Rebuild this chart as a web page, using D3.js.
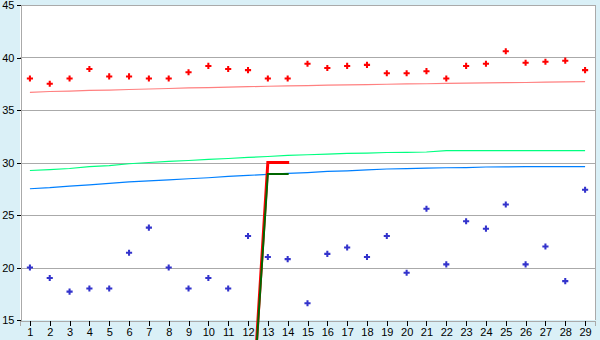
<!DOCTYPE html>
<html><head><meta charset="utf-8">
<script src="https://cdn.jsdelivr.net/npm/d3@7"></script>
<style>
html,body{margin:0;padding:0;background:#daf0f7;}
svg{display:block;}
text{font-family:"Liberation Sans",Arial,sans-serif;font-size:11px;fill:#000;}
</style></head>
<body><svg id="c" width="600" height="340"></svg>
<script>
const categories = d3.range(1, 30);
const yTicks = [15, 20, 25, 30, 35, 40, 45];
const redPoints = [38.0,37.5,38.0,38.9,38.2,38.2,38.0,38.0,38.6,39.2,38.9,38.8,38.0,38.0,39.4,39.0,39.2,39.3,38.5,38.5,38.7,38.0,39.2,39.4,40.6,39.5,39.6,39.7,38.8];
const bluePoints = [20.0,19.0,17.7,18.0,18.0,21.4,23.8,20.0,18.0,19.0,18.0,23.0,21.0,20.8,16.6,21.3,21.9,21.0,23.0,19.5,25.6,20.3,24.4,23.7,26.0,20.3,22.0,18.7,27.4];
const redLine = [36.67,36.76,36.8,36.86,36.9,36.95,37.0,37.05,37.1,37.14,37.18,37.22,37.26,37.3,37.33,37.36,37.39,37.42,37.45,37.48,37.5,37.53,37.56,37.58,37.6,37.62,37.65,37.67,37.7];
const greenLine = [29.24,29.33,29.43,29.6,29.71,29.88,30.0,30.1,30.19,30.29,30.38,30.48,30.57,30.67,30.74,30.8,30.86,30.9,30.95,30.97,31.0,31.14,31.14,31.14,31.14,31.14,31.14,31.14,31.14];
const blueLine = [27.5,27.6,27.75,27.87,28.02,28.15,28.25,28.35,28.45,28.55,28.68,28.77,28.87,28.96,29.04,29.15,29.21,29.3,29.38,29.42,29.47,29.5,29.52,29.57,29.59,29.6,29.6,29.6,29.6];
const stepRedCats = [12, 13, 14];
const stepRedVals = [0, 30.0, 30.0];
const stepGreenCats = [12, 13, 14];
const stepGreenVals = [0, 28.9, 28.9];

const svg = d3.select("#c");
const L = 20, R = 595, T = 5, B = 320;
const x = d3.scalePoint().domain(categories).range([L, R]).padding(0.5);
const y = d3.scaleLinear().domain([15, 45]).range([B, T]);

svg.append("rect").attr("x", L).attr("y", T).attr("width", R - L).attr("height", B - T).attr("fill", "#fff");

// gridlines
svg.append("g").selectAll("line").data(yTicks.filter(d => d > 15)).join("line")
  .attr("x1", L).attr("x2", R).attr("y1", d => Math.round(y(d)) + 0.5).attr("y2", d => Math.round(y(d)) + 0.5)
  .attr("stroke", "#aaaaaa").attr("shape-rendering", "crispEdges");
// right border
svg.append("line").attr("x1", R + 0.5).attr("x2", R + 0.5).attr("y1", T).attr("y2", B)
  .attr("stroke", "#aaaaaa").attr("shape-rendering", "crispEdges");

// axes
const yAxis = d3.axisLeft(y).tickValues(yTicks).tickSize(4).tickPadding(2);
const gy = svg.append("g").attr("transform", `translate(${L + 0.5},0)`).call(yAxis);
const xAxis = d3.axisBottom(x).tickSize(5).tickPadding(3);
const gx = svg.append("g").attr("transform", `translate(0,${B + 0.5})`).call(xAxis);
[gy, gx].forEach(g => {
  g.select(".domain").attr("stroke", "#aaaaaa").attr("shape-rendering", "crispEdges");
  g.selectAll(".tick line").attr("stroke", "#000").attr("shape-rendering", "crispEdges");
  g.selectAll("text").attr("font-family", "Liberation Sans, Arial, sans-serif").attr("font-size", 11).attr("fill", "#000");
});

// trend lines
const line = d3.line().x((d, i) => x(categories[i])).y(d => y(d));
[[redLine, "#ff8080"], [greenLine, "#00ff80"], [blueLine, "#0080ff"]].forEach(([data, col]) => {
  svg.append("path").attr("d", line(data)).attr("fill", "none").attr("stroke", col).attr("stroke-width", 1.2);
});

// step lines
const line2 = cats => d3.line().x((d, i) => x(cats[i])).y(d => y(d));
svg.append("path").attr("d", line2(stepRedCats)(stepRedVals)).attr("fill", "none")
  .attr("stroke", "#ff0000").attr("stroke-width", 3).attr("stroke-linejoin", "miter").attr("stroke-linecap", "square");
svg.append("path").attr("d", line2(stepGreenCats)(stepGreenVals)).attr("fill", "none")
  .attr("stroke", "#006600").attr("stroke-width", 2).attr("stroke-linejoin", "miter").attr("stroke-linecap", "square");

// points
const sym = d3.symbol().type(d3.symbolCross).size(21);
svg.append("g").selectAll("path").data(redPoints).join("path")
  .attr("transform", (d, i) => `translate(${x(categories[i])},${y(d)})`).attr("d", sym).attr("fill", "#ff0000");
svg.append("g").selectAll("path").data(bluePoints).join("path")
  .attr("transform", (d, i) => `translate(${x(categories[i])},${y(d)})`).attr("d", sym).attr("fill", "#3333cc");
</script></body></html>
